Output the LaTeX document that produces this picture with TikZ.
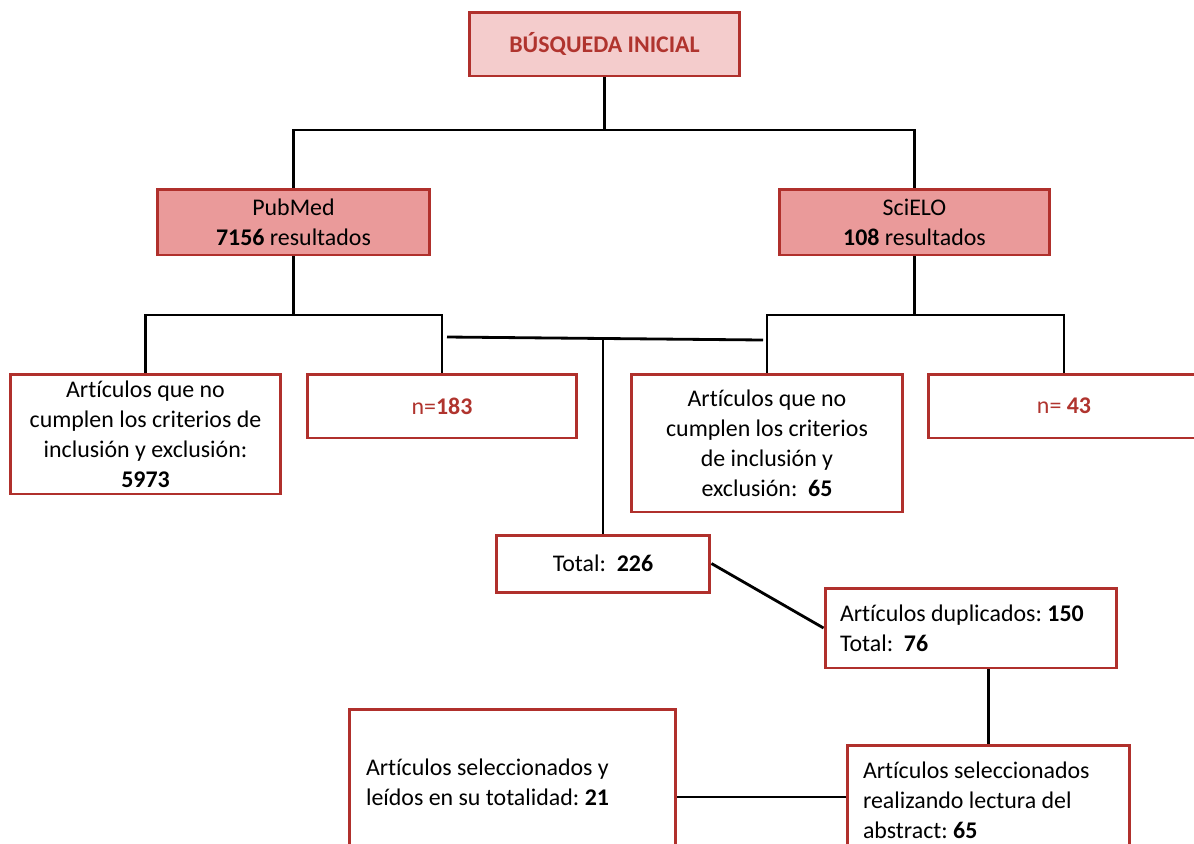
\documentclass[tikz,border=0pt]{standalone}
\usepackage{fontspec}
\setmainfont{Carlito}[Ligatures=NoCommon]
\frenchspacing
\usetikzlibrary{positioning}
\definecolor{boxred}{HTML}{B0302C}
\definecolor{textred}{HTML}{B0342E}
\definecolor{lightpink}{HTML}{F4CCCC}
\definecolor{midpink}{HTML}{EA9A9A}
\tikzset{
  search/.style={draw=boxred, fill=lightpink, text=textred},
  database/.style={draw=boxred, fill=midpink},
  result/.style={draw=boxred, fill=white},
  count/.style={draw=boxred, fill=white, text=textred},
  left_text/.style={draw=boxred, fill=white, align=left,
    execute at begin node={\spaceskip=0pt\xspaceskip=0pt}},
  connector/.style={draw=black, line width=1.6pt},
}

\begin{document}
\begin{tikzpicture}
      [x=0.02cm, y=-0.02cm,
       every node/.style={rectangle, line width=1.7pt, align=center, font=\fontsize{13.6}{17}\selectfont}]
      \useasboundingbox (0,0) rectangle (1194,843);
      \clip (0,0) rectangle (1194,843);
      \fill[white] (0,0) rectangle (1194,843);

      \node (inicial) [search, minimum width=5.42cm, minimum height=1.28cm] at (604.5,44) {\textbf{BÚSQUEDA INICIAL}};
      \node (pubmed) [database, minimum width=5.46cm, minimum height=1.32cm] at (293.5,222) {PubMed\\\textbf{7156} resultados};
      \node (scielo) [database, minimum width=5.42cm, minimum height=1.32cm] at (914.5,222) {SciELO\\\textbf{108} resultados};
      \node (excl_pubmed) [result, minimum width=5.42cm, minimum height=2.4cm] at (145.5,434) {Artículos que no\\cumplen los criterios de\\inclusión y exclusión:\\\textbf{5973}};
      \node (n_pubmed) [count, minimum width=5.4cm, minimum height=1.28cm] at (442,406) {n=\textbf{183}};
      \node (excl_scielo) [result, minimum width=5.44cm, minimum height=2.76cm] at (767,443) {Artículos que no\\cumplen los criterios\\de inclusión y\\exclusión:~~\textbf{65}};
      \node (n_scielo) [count, minimum width=5.44cm, minimum height=1.28cm] at (1064,406) {n= \textbf{43}};
      \node (total) [result, minimum width=4.28cm, minimum height=1.14cm] at (603,563.5) {Total:~~\textbf{226}};
      \node (duplicados) [left_text, inner xsep=0.3cm, text width=5.24cm, minimum height=1.6cm] at (971,628) {Artículos duplicados: \textbf{150}\\Total:~~\textbf{76}};
      \node (abstract) [left_text, inner xsep=0.32cm, text width=5.02cm, minimum height=2.2cm] at (988.5,800) {Artículos seleccionados\\realizando lectura del\\abstract: \textbf{65}};
      \node (leidos) [left_text, inner xsep=0.34cm, text width=5.86cm, minimum height=2.92cm] at (512.5,782) {Artículos seleccionados y\\leídos en su totalidad: \textbf{21}};

      % search tree
      \coordinate (split_top) at (604.5,130);
      \draw[connector] (inicial.south) -- (split_top);
      \draw[connector] (pubmed.north) |- (split_top) -| (scielo.north);
      \coordinate (split_pubmed) at (293.5,315);
      \draw[connector] (pubmed.south) -- (split_pubmed);
      \draw[connector] (excl_pubmed.north) |- (split_pubmed) -| (n_pubmed.north);
      \coordinate (split_scielo) at (914.5,315);
      \draw[connector] (scielo.south) -- (split_scielo);
      \draw[connector] (excl_scielo.north) |- (split_scielo) -| (n_scielo.north);

      % merge into total
      \coordinate (merge_left) at (447,337);
      \coordinate (merge_right) at (763,340);
      \coordinate (merge) at (603,338.5);
      \draw[connector] (merge_left) -- (merge_right);
      \draw[connector] (merge) -- (total.north);
      \draw[connector] (total.east) -- (duplicados.west);
      \draw[connector] (duplicados.south -| abstract.north) -- (abstract.north);
      \coordinate (side) at (0,797);
      \draw[connector] (leidos.east |- side) -- (abstract.west |- side);
    \end{tikzpicture}
\end{document}
